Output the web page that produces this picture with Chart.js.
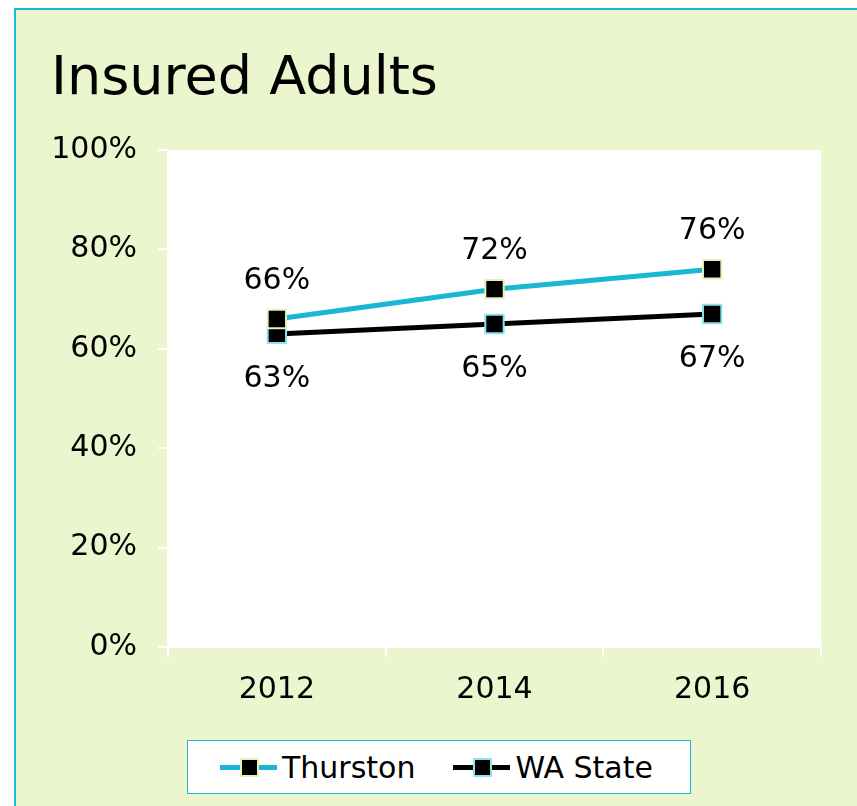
<!DOCTYPE html>
<html>
<head>
<meta charset="utf-8">
<script src="https://cdn.jsdelivr.net/npm/chart.js@4"></script>
<style>
  html, body { margin: 0; padding: 0; width: 857px; height: 806px; overflow: hidden; background: #fff; }
  body { position: relative; font-family: "DejaVu Sans", Verdana, sans-serif; color: #000; }
  #panel { position: absolute; left: 14px; top: 8px; width: 860px; height: 820px; box-sizing: border-box;
           border: 2px solid #1cb9d5; background: #ebf5ce; }
  #title { position: absolute; left: 51px; top: 49px; font-size: 54px; line-height: 54px; white-space: nowrap; }
  #chart { position: absolute; left: 0; top: 0; }
  #legend { position: absolute; left: 187px; top: 740px; width: 504px; height: 54px; box-sizing: border-box;
            border: 1.5px solid #1cb9d5; background: #fff; display: flex; align-items: center; padding-left: 32px;
            white-space: nowrap; }
  .item { display: flex; align-items: center; font-size: 30px; margin-right: 38px; white-space: nowrap; flex: none; }
  .sample { position: relative; width: 57px; height: 5px; margin-right: 5px; flex: none; }
  .sample i { position: absolute; left: 20px; top: -7px; width: 15px; height: 15px; background: #000; border: 2px solid; }
</style>
</head>
<body>
<div id="panel"></div>
<div id="title">Insured Adults</div>
<canvas id="chart" width="857" height="806"></canvas>
<div id="legend"></div>
<script>
const years = ['2012', '2014', '2016'];
const seriesNames = ['Thurston', 'WA State'];
const thurston = [66, 72, 76];
const waState = [63, 65, 67];
const yTicks = [0, 20, 40, 60, 80, 100];

const lineColors = ['#19b7d1', '#000000'];
const markerEdges = ['#e4f3b9', '#8fe1f4'];
const labelOffsets = [-38, 45];

// white plot area behind the lines
const plotBackground = {
  id: 'plotBackground',
  beforeDraw(chart) {
    const { ctx, chartArea: a } = chart;
    ctx.save();
    ctx.fillStyle = '#ffffff';
    ctx.fillRect(a.left, a.top, a.right - a.left, a.bottom - a.top);
    ctx.restore();
  }
};

// value labels above / below the points
const valueLabels = {
  id: 'valueLabels',
  afterDatasetsDraw(chart) {
    const ctx = chart.ctx;
    ctx.save();
    ctx.font = '30px "DejaVu Sans"';
    ctx.fillStyle = '#000';
    ctx.textAlign = 'center';
    ctx.textBaseline = 'middle';
    chart.data.datasets.forEach((ds, i) => {
      chart.getDatasetMeta(i).data.forEach((pt, j) => {
        ctx.fillText(ds.data[j] + '%', pt.x, pt.y + labelOffsets[i]);
      });
    });
    ctx.restore();
  }
};

const datasets = [thurston, waState].map((values, i) => ({
  label: seriesNames[i],
  data: values,
  borderColor: lineColors[i],
  borderWidth: 5,
  tension: 0,
  pointStyle: 'rect',
  pointRadius: 13,
  pointBackgroundColor: '#000',
  pointBorderColor: markerEdges[i],
  pointBorderWidth: 2
}));

new Chart(document.getElementById('chart'), {
  type: 'line',
  data: { labels: years, datasets },
  options: {
    responsive: false,
    animation: false,
    layout: { padding: { left: 38, right: 36, top: 150, bottom: 99 } },
    plugins: { legend: { display: false }, tooltip: { enabled: false } },
    scales: {
      x: {
        offset: true,
        grid: { offset: true, drawOnChartArea: false, color: '#fff', lineWidth: 2, tickLength: 10 },
        border: { color: '#fff', width: 2 },
        ticks: { font: { family: 'DejaVu Sans', size: 30 }, color: '#000', padding: 15 },
        afterFit(scale) { scale.height = 60; }
      },
      y: {
        min: 0,
        max: 100,
        afterBuildTicks(scale) { scale.ticks = yTicks.map(v => ({ value: v })); },
        grid: { drawOnChartArea: false, color: '#fff', lineWidth: 2, tickLength: 10 },
        border: { color: '#fff', width: 2 },
        ticks: { font: { family: 'DejaVu Sans', size: 30 }, color: '#000', padding: 21, callback: v => v + '%' },
        afterFit(scale) { scale.width = 130; }
      }
    }
  },
  plugins: [plotBackground, valueLabels]
});

const legend = document.getElementById('legend');
seriesNames.forEach((name, i) => {
  const item = document.createElement('div');
  item.className = 'item';
  item.innerHTML = '<span class="sample" style="background:' + lineColors[i] + '"><i style="border-color:' +
    markerEdges[i] + '"></i></span>' + name;
  legend.appendChild(item);
});
</script>
</body>
</html>
